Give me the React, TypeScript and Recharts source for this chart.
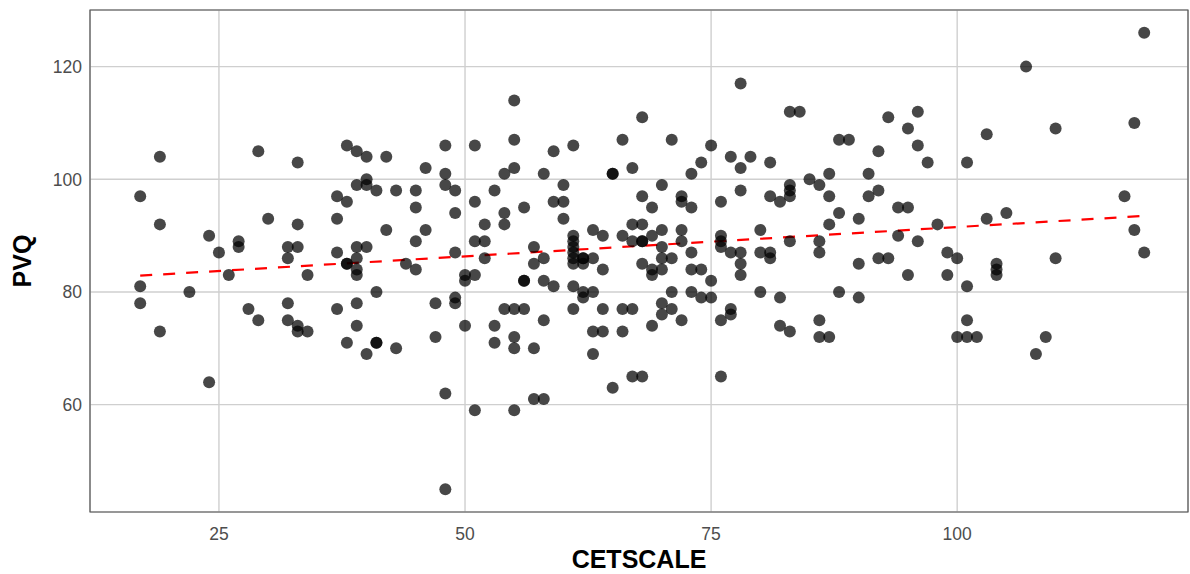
import React from 'react'
import {
  ScatterChart,
  Scatter,
  XAxis,
  YAxis,
  CartesianGrid,
  ReferenceLine,
  ReferenceArea,
  Label,
} from 'recharts'

// CETSCALE (x) and PVQ (y), one entry per respondent
const cetscale = [
  19, 29, 17, 19, 30, 24, 27, 27, 25, 26, 17, 17, 22, 19, 28, 29, 24,
  33, 38, 39, 40, 42, 48, 46, 48, 40, 39, 40, 41, 43, 45, 48, 49, 37, 38, 45, 49, 33, 37, 42, 46, 45,
  32, 33, 32, 37, 39, 40, 39, 49, 38, 38, 44, 39, 39, 45, 34, 41, 32, 37, 39, 32, 33, 33, 34, 39, 38,
  41, 41, 40, 43, 47, 49, 49, 50, 47, 48, 48,
  55, 68, 51, 55, 59, 61, 66, 54, 55, 58, 65, 65, 67, 60, 53, 51, 54, 54, 52, 56, 59, 60, 60, 68, 69,
  51, 52, 52, 57, 58, 61, 61, 61, 61, 61, 61, 62, 62, 62, 63, 64, 66, 67, 68, 67, 68, 68, 63, 68, 57,
  64, 69, 69, 50, 50, 51, 56, 56, 58, 59, 61, 62, 62, 63, 54, 55, 56, 61, 64, 66, 67, 53, 58, 53, 55,
  55, 57, 63, 64, 66, 69, 63, 67, 68, 65, 57, 58, 51, 55,
  78, 83, 84, 71, 75, 74, 73, 77, 79, 78, 81, 88, 89, 70, 72, 72, 73, 76, 78, 81, 82, 83, 83, 83, 85,
  86, 87, 87, 88, 87, 70, 72, 69, 72, 70, 73, 76, 76, 76, 80, 77, 78, 80, 81, 81, 83, 86, 86, 70, 71,
  78, 70, 73, 74, 75, 71, 73, 74, 75, 70, 71, 70, 72, 77, 77, 76, 78, 80, 82, 82, 83, 86, 86, 87, 88, 76,
  93, 96, 95, 96, 92, 97, 103, 101, 91, 92, 91, 90, 94, 95, 98, 103, 105, 94, 96, 90, 92, 93, 99, 100,
  104, 90, 95, 99, 101, 104, 104, 101, 100, 101, 102,
  119, 107, 110, 118, 117, 118, 119, 110, 109, 108,
]

const pvq = [
  104, 105, 97, 92, 93, 90, 89, 88, 87, 83, 81, 78, 80, 73, 77, 75, 64,
  103, 106, 105, 104, 104, 106, 102, 101, 100, 99, 99, 98, 98, 98, 99, 98, 97, 96, 95, 94, 92, 93, 91, 91, 89,
  88, 88, 86, 87, 88, 88, 86, 87, 85, 85, 85, 84, 83, 84, 83, 80, 78, 77, 78, 75, 74, 73, 73, 74, 71,
  71, 71, 69, 70, 78, 79, 78, 74, 72, 62, 45,
  114, 111, 106, 107, 105, 106, 107, 101, 102, 101, 101, 101, 102, 99, 98, 96, 94, 92, 92, 95, 96, 96, 93, 97, 95,
  89, 89, 86, 88, 86, 90, 89, 88, 87, 86, 85, 86, 86, 85, 91, 90, 90, 92, 92, 89, 89, 89, 86, 85, 85,
  84, 84, 83, 83, 82, 83, 82, 82, 82, 81, 81, 80, 79, 80, 77, 77, 77, 77, 77, 77, 77, 74, 75, 71, 72,
  70, 70, 73, 73, 73, 74, 69, 65, 65, 63, 61, 61, 59, 59,
  117, 112, 112, 107, 106, 103, 101, 104, 104, 102, 103, 107, 107, 99, 97, 96, 95, 96, 98, 97, 96, 99, 98, 97, 100,
  99, 101, 97, 94, 92, 91, 91, 90, 89, 88, 87, 90, 89, 88, 91, 87, 87, 87, 87, 86, 89, 89, 87, 86, 86,
  85, 84, 84, 84, 82, 80, 80, 79, 79, 78, 77, 76, 75, 77, 76, 75, 83, 80, 79, 74, 73, 75, 72, 72, 80, 65,
  111, 112, 109, 106, 105, 103, 108, 103, 101, 98, 97, 93, 95, 95, 92, 93, 94, 90, 89, 85, 86, 86, 87, 86,
  85, 79, 83, 83, 81, 84, 83, 75, 72, 72, 72,
  126, 120, 109, 110, 97, 91, 87, 86, 72, 69,
]

const xTicks = [25, 50, 75, 100]
const yTicks = [60, 80, 100, 120]
const xDomain = [11.9, 123.45]
const yDomain = [40.95, 130.05]

// dashed linear fit, ends
const trendStart = { x: 17, y: 82.9 }
const trendEnd = { x: 119, y: 93.5 }

const points = cetscale.map(function (x, i) {
  return { x: x, y: pvq[i] }
})

const font = 'Liberation Sans, Arial, sans-serif'
const tickStyle = { fill: '#4D4D4D', fontSize: 17.5, fontFamily: font }
const titleStyle = { fontSize: 25, fontWeight: 700, fontFamily: font, fill: '#000' }

function Dot(props: any) {
  return <circle cx={props.cx} cy={props.cy} r={6} fill="#000" fillOpacity={0.72} />
}

function XTitle(props: any) {
  const vb = props.viewBox || { x: 90, y: 512, width: 1098, height: 62 }
  return (
    <text
      x={vb.x + vb.width / 2}
      y={559}
      textAnchor="middle"
      dominantBaseline="central"
      style={titleStyle}
    >
      CETSCALE
    </text>
  )
}

function YTitle(props: any) {
  const vb = props.viewBox || { x: 0, y: 10, width: 90, height: 502 }
  const cy = vb.y + vb.height / 2
  return (
    <text
      x={22}
      y={cy}
      transform={'rotate(-90 22 ' + cy + ')'}
      textAnchor="middle"
      dominantBaseline="central"
      style={titleStyle}
    >
      PVQ
    </text>
  )
}

export default function App() {
  return (
    <div style={{ width: 1190, height: 574, background: '#fff' }}>
      <style>{'body{margin:0}'}</style>
      <ScatterChart
        width={1190}
        height={574}
        margin={{ top: 10, right: 2, bottom: 0, left: 0 }}
      >
        <CartesianGrid stroke="#CFCFCF" strokeWidth={1.4} />
        <XAxis
          type="number"
          dataKey="x"
          domain={xDomain}
          ticks={xTicks}
          allowDataOverflow
          height={62}
          tick={tickStyle}
          tickLine={false}
          axisLine={false}
          tickMargin={10}
        >
          <Label content={XTitle} />
        </XAxis>
        <YAxis
          type="number"
          dataKey="y"
          domain={yDomain}
          ticks={yTicks}
          allowDataOverflow
          width={90}
          tick={tickStyle}
          tickLine={false}
          axisLine={false}
        >
          <Label content={YTitle} />
        </YAxis>
        <Scatter data={points} shape={Dot} isAnimationActive={false} />
        <ReferenceLine
          segment={[trendStart, trendEnd]}
          stroke="#FF0000"
          strokeWidth={2.2}
          strokeDasharray="12 11"
        />
        <ReferenceArea
          x1={xDomain[0]}
          x2={xDomain[1]}
          y1={yDomain[0]}
          y2={yDomain[1]}
          fill="none"
          stroke="#555"
          strokeWidth={1.2}
        />
      </ScatterChart>
    </div>
  )
}
